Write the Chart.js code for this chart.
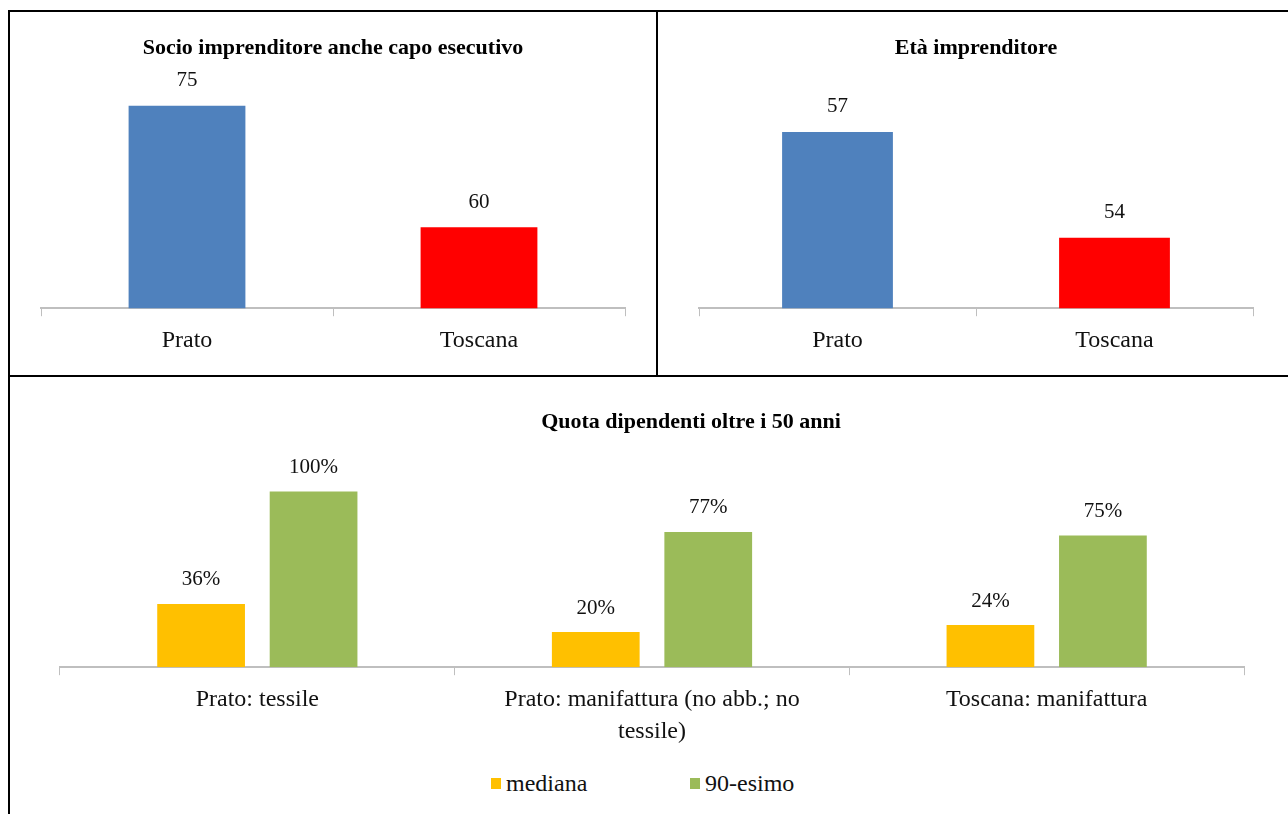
<!DOCTYPE html>
<html lang="it">
<head>
<meta charset="utf-8">
<title>Imprenditori e dipendenti</title>
<script src="https://cdn.jsdelivr.net/npm/chart.js@4/dist/chart.umd.min.js"></script>
<style>
  html, body { margin: 0; padding: 0; background: #fff; overflow: hidden; }
  body { width: 1288px; height: 814px; position: relative; font-family: "Liberation Serif", "DejaVu Serif", serif; }
  .box { position: absolute; }
  .rule { position: absolute; background: #000; }
  #legend3 { position: absolute; left: 491px; top: 768px; display: flex; font-size: 24px; line-height: 30px; color: #111; }
  #legend3 .item { display: flex; align-items: center; min-width: 199px; }
  #legend3 .sw { width: 10px; height: 11px; margin-right: 5px; }
</style>
</head>
<body>
<!-- bordi della tabella -->
<div class="rule" style="left:8px; top:10px; width:1280px; height:2px;"></div>
<div class="rule" style="left:8px; top:10px; width:2px; height:804px;"></div>
<div class="rule" style="left:656px; top:10px; width:2px; height:366px;"></div>
<div class="rule" style="left:8px; top:375px; width:1280px; height:2px;"></div>

<div class="box" style="left:10px; top:12px; width:646px; height:363px;"><canvas id="chartSocio"></canvas></div>
<div class="box" style="left:658px; top:12px; width:630px; height:363px;"><canvas id="chartEta"></canvas></div>
<div class="box" style="left:10px; top:378px; width:1312px; height:390px;"><canvas id="chartQuota"></canvas></div>
<div id="legend3"></div>

<script>
  // Dati
  const luoghi = ["Prato", "Toscana"];
  const coloriLuoghi = ["#4f81bd", "#ff0000"];
  const socioCapo = [75, 60];
  const etaImprenditore = [57, 54];

  const settori = [
    ["Prato: tessile"],
    ["Prato: manifattura (no abb.; no", "tessile)"],
    ["Toscana: manifattura"],
  ];
  const serieNomi = ["mediana", "90-esimo"];
  const serieColori = ["#ffc000", "#9bbb59"];
  const quotaMediana = [36, 20, 24];
  const quota90 = [100, 77, 75];

  const FONT = "'Liberation Serif', 'DejaVu Serif', serif";
  Chart.defaults.font.family = FONT;
  Chart.defaults.color = "#111";

  // Etichette con il valore sopra ogni barra
  const etichetteValori = {
    id: "etichetteValori",
    afterDatasetsDraw(chart, args, opts) {
      const ctx = chart.ctx;
      ctx.save();
      ctx.font = "21px " + FONT;
      ctx.fillStyle = "#111";
      ctx.textAlign = "center";
      ctx.textBaseline = "middle";
      chart.data.datasets.forEach((ds, i) => {
        chart.getDatasetMeta(i).data.forEach((bar, j) => {
          ctx.fillText(ds.data[j] + (opts.suffix || ""), bar.x, bar.y - (opts.offset || 24));
        });
      });
      ctx.restore();
    },
  };

  function assiX(lineHeight, padding) {
    return {
      offset: true,
      grid: { display: true, drawOnChartArea: false, drawTicks: true, tickLength: 8, color: "#bfbfbf", offset: true },
      border: { display: true, color: "#bfbfbf", width: 2 },
      ticks: { font: { size: 24, lineHeight: lineHeight }, color: "#111", padding: padding, maxRotation: 0, autoSkip: false },
    };
  }

  function titolo(testo, top, bottom) {
    return {
      display: true,
      text: testo,
      color: "#000",
      font: { size: 22, weight: "bold", lineHeight: 1.2 },
      padding: { top: top, bottom: bottom },
    };
  }

  function graficoSemplice(id, testo, valori, min, max, padLeft, padRight, padBottomTitolo) {
    new Chart(document.getElementById(id), {
      type: "bar",
      data: {
        labels: luoghi,
        datasets: [{ data: valori, backgroundColor: coloriLuoghi, categoryPercentage: 1, barPercentage: 0.4 }],
      },
      options: {
        responsive: true,
        maintainAspectRatio: false,
        animation: false,
        layout: { padding: { left: padLeft, right: padRight, top: 0, bottom: 10 } },
        plugins: {
          legend: { display: false },
          tooltip: { enabled: false },
          title: titolo(testo, 23, padBottomTitolo),
          etichetteValori: { offset: 25 },
        },
        scales: {
          x: assiX(1.2, 10),
          y: { display: false, min: min, max: max },
        },
      },
      plugins: [etichetteValori],
    });
  }

  graficoSemplice("chartSocio", "Socio imprenditore anche capo esecutivo", socioCapo, 50, 80, 31, 31, 4);
  graficoSemplice("chartEta", "Età imprenditore", etaImprenditore, 52, 59, 41, 35, 0);

  // Quota dipendenti oltre i 50 anni
  new Chart(document.getElementById("chartQuota"), {
    type: "bar",
    data: {
      labels: settori,
      datasets: [
        { label: serieNomi[0], data: quotaMediana, backgroundColor: serieColori[0], categoryPercentage: 0.57, barPercentage: 0.78 },
        { label: serieNomi[1], data: quota90, backgroundColor: serieColori[1], categoryPercentage: 0.57, barPercentage: 0.78 },
      ],
    },
    options: {
      responsive: true,
      maintainAspectRatio: false,
      animation: false,
      layout: { padding: { left: 50, right: 0, top: 0, bottom: 11 } },
      plugins: {
        legend: { display: false },
        tooltip: { enabled: false },
        title: titolo("Quota dipendenti oltre i 50 anni", 31, 21),
        etichetteValori: { offset: 24, suffix: "%" },
      },
      scales: {
        x: assiX(1.33, 9),
        y: { display: false, min: 0, max: 120 },
        spazio: {
          type: "linear",
          position: "right",
          display: true,
          grid: { display: false },
          border: { display: false },
          ticks: { display: false },
          afterFit(scale) { scale.width = 78; },
        },
      },
    },
    plugins: [etichetteValori],
  });

  // Legenda
  const legenda = document.getElementById("legend3");
  serieNomi.forEach((nome, i) => {
    const item = document.createElement("div");
    item.className = "item";
    item.innerHTML = '<span class="sw" style="background:' + serieColori[i] + '"></span><span>' + nome + "</span>";
    legenda.appendChild(item);
  });
</script>
</body>
</html>
